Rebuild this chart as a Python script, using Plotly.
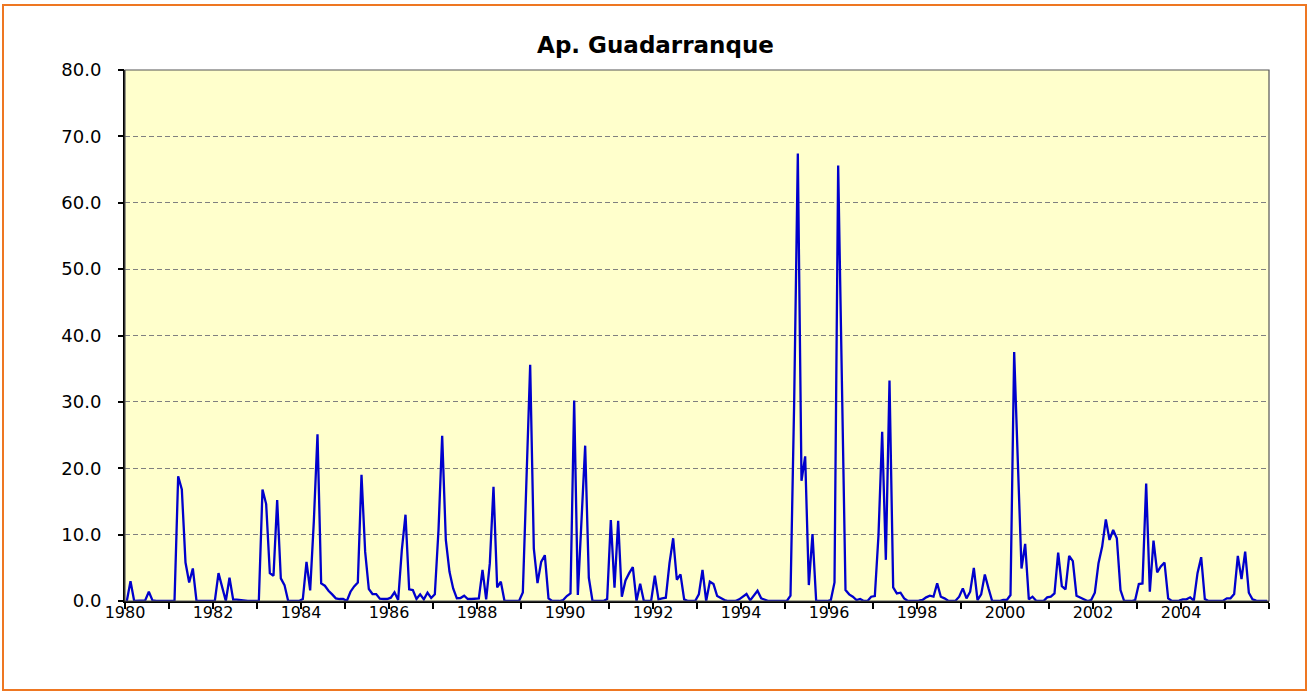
import plotly.graph_objects as go

# Monthly values, Jan 1980 .. Dec 2005 (12 per row)
caudal_mensual = [
    0.0, 3.0, 0.0, 0.0, 0.0, 0.1, 1.4, 0.1, 0.0, 0.0, 0.0, 0.0,        # 1980
    0.0, 0.0, 18.8, 16.8, 5.8, 2.8, 4.9, 0.0, 0.0, 0.0, 0.0, 0.0,     # 1981
    0.0, 4.2, 2.0, 0.0, 3.5, 0.2, 0.2, 0.1, 0.05, 0.0, 0.0, 0.0,      # 1982
    0.0, 16.8, 14.6, 4.2, 3.8, 15.2, 3.4, 2.4, 0.0, 0.0, 0.0, 0.0,    # 1983
    0.3, 5.9, 1.6, 12.0, 25.1, 2.65, 2.3, 1.55, 1.0, 0.4, 0.3, 0.3,   # 1984
    0.0, 1.4, 2.2, 2.8, 19.0, 7.4, 1.8, 1.05, 1.05, 0.35, 0.3, 0.3,   # 1985
    0.5, 1.3, 0.15, 7.7, 13.0, 1.75, 1.65, 0.3, 1.0, 0.25, 1.25, 0.45,  # 1986
    1.0, 10.7, 24.9, 9.2, 4.4, 1.9, 0.4, 0.45, 0.8, 0.3, 0.3, 0.3,    # 1987
    0.4, 4.7, 0.25, 5.7, 17.2, 2.05, 2.9, 0.0, 0.0, 0.0, 0.0, 0.05,   # 1988
    1.3, 20.0, 35.6, 7.9, 2.7, 5.9, 6.9, 0.4, 0.0, 0.0, 0.0, 0.15,    # 1989
    0.75, 1.15, 30.2, 0.9, 12.0, 23.4, 3.5, 0.0, 0.0, 0.0, 0.0, 0.3,  # 1990
    12.2, 2.0, 12.1, 0.65, 3.1, 4.2, 5.1, 0.0, 2.6, 0.0, 0.0, 0.05,   # 1991
    3.8, 0.25, 0.4, 0.5, 5.7, 9.45, 3.2, 4.0, 0.25, 0.0, 0.0, 0.0,    # 1992
    1.0, 4.7, 0.0, 2.9, 2.55, 0.75, 0.45, 0.15, 0.0, 0.0, 0.0, 0.25,  # 1993
    0.65, 1.05, 0.1, 0.75, 1.55, 0.4, 0.15, 0.0, 0.0, 0.0, 0.0, 0.0,  # 1994
    0.0, 0.8, 30.0, 67.4, 18.1, 21.8, 2.4, 10.1, 0.0, 0.0, 0.0, 0.0,  # 1995
    0.15, 2.8, 65.6, 33.0, 1.65, 1.0, 0.65, 0.15, 0.3, 0.0, 0.0, 0.65,  # 1996
    0.75, 9.95, 25.5, 6.2, 33.2, 2.05, 1.15, 1.25, 0.4, 0.0, 0.0, 0.0,  # 1997
    0.05, 0.15, 0.55, 0.8, 0.65, 2.65, 0.65, 0.4, 0.05, 0.0, 0.05, 0.65,  # 1998
    1.9, 0.4, 1.4, 5.0, 0.15, 1.0, 4.0, 1.9, 0.0, 0.0, 0.0, 0.15,     # 1999
    0.15, 0.9, 37.5, 21.0, 4.9, 8.6, 0.25, 0.65, 0.05, 0.0, 0.0, 0.55,  # 2000
    0.65, 1.15, 7.3, 2.25, 1.75, 6.8, 6.0, 0.8, 0.55, 0.25, 0.0, 0.15,  # 2001
    1.25, 5.7, 8.2, 12.3, 9.2, 10.7, 9.45, 1.65, 0.0, 0.0, 0.0, 0.15,  # 2002
    2.55, 2.65, 17.7, 1.4, 9.1, 4.3, 5.2, 5.8, 0.4, 0.0, 0.0, 0.05,   # 2003
    0.25, 0.25, 0.55, 0.05, 4.2, 6.6, 0.3, 0.0, 0.0, 0.0, 0.0, 0.05,  # 2004
    0.4, 0.4, 1.05, 6.8, 3.3, 7.45, 1.25, 0.25, 0.05, 0.0, 0.0, 0.0,  # 2005
]

anio_inicio = 1980
anio_fin = 2006
anios_ticks = list(range(anio_inicio, anio_fin + 1))
anios_etiqueta = list(range(1980, 2005, 2))
valores_y = [0, 10, 20, 30, 40, 50, 60, 70, 80]
etiquetas_y = [f"{v:.1f}" for v in valores_y]

titulo = "Ap. Guadarranque"

meses = list(range(len(caudal_mensual)))
tick_pos = [12 * (a - anio_inicio) - 0.5 for a in anios_ticks]
label_pos = [12 * (a - anio_inicio) - 0.5 for a in anios_etiqueta]
label_txt = [str(a) for a in anios_etiqueta]

FONT = "Verdana, DejaVu Sans, sans-serif"

W, H = 1311, 696
ml, mr, mt, mb = 125, 42, 70, 95
pw, ph = W - ml - mr, H - mt - mb

def px_to_paper_x(px):
    return (px - ml) / pw

def px_to_paper_y(py):
    return (H - mb - py) / ph

fig = go.Figure()
fig.add_trace(go.Scatter(
    x=meses, y=caudal_mensual, mode="lines",
    line=dict(color="#0000CC", width=2.3),
    hoverinfo="skip", showlegend=False,
))
# invisible helper trace so the auxiliary axes are drawn
fig.add_trace(go.Scatter(
    x=[meses[0]], y=[caudal_mensual[0]], xaxis="x2", yaxis="y2", mode="markers",
    marker=dict(opacity=0), hoverinfo="skip", showlegend=False,
))

xr = [-0.5, len(caudal_mensual) - 0.5]
yr = [0, 80]

fig.update_layout(
    width=W, height=H,
    margin=dict(l=ml, r=mr, t=mt, b=mb, autoexpand=False),
    paper_bgcolor="white",
    plot_bgcolor="#FFFFCC",
    title=dict(text=f"<b>{titulo}</b>", x=0.5, xref="container", xanchor="center",
               y=1 - 45 / H, yref="container", yanchor="middle",
               font=dict(family=FONT, size=23, color="black")),
    font=dict(family=FONT, color="black"),
    xaxis=dict(
        range=xr,
        tickmode="array", tickvals=tick_pos, ticktext=[""] * len(tick_pos),
        ticks="outside", ticklen=6, tickwidth=1.5, tickcolor="black",
        showgrid=False, zeroline=False,
        showline=True, linecolor="black", linewidth=2,
        fixedrange=True,
    ),
    xaxis2=dict(
        range=xr, overlaying="x", anchor="free", position=0, side="bottom",
        tickmode="array", tickvals=label_pos, ticktext=label_txt,
        ticks="", tickfont=dict(size=16, family=FONT),
        showgrid=False, zeroline=False, showline=False,
        fixedrange=True,
    ),
    yaxis=dict(
        range=yr,
        tickmode="array", tickvals=valores_y, ticktext=etiquetas_y,
        ticks="outside", ticklen=18, tickwidth=1, tickcolor="rgba(0,0,0,0)",
        tickfont=dict(size=18, family=FONT),
        showgrid=True, gridcolor="#808080", gridwidth=1, griddash="5px,3px",
        zeroline=False,
        showline=True, linecolor="black", linewidth=2,
        fixedrange=True,
    ),
    yaxis2=dict(
        range=yr, overlaying="y", anchor="x", side="left",
        tickmode="array", tickvals=valores_y,
        ticks="outside", ticklen=6, tickwidth=1.5, tickcolor="black",
        showticklabels=False, showgrid=False, zeroline=False, showline=False,
        fixedrange=True,
    ),
    shapes=[
        dict(type="rect", xref="paper", yref="paper", x0=0, x1=1, y0=0, y1=1,
             line=dict(color="#555555", width=1.2), fillcolor="rgba(0,0,0,0)", layer="above"),
        dict(type="rect", xref="paper", yref="paper",
             x0=px_to_paper_x(3), x1=px_to_paper_x(1306),
             y0=px_to_paper_y(690), y1=px_to_paper_y(5),
             line=dict(color="#EE7722", width=2), fillcolor="rgba(0,0,0,0)", layer="above"),
    ],
)

fig.write_html(
    "out.html",
    config={"displayModeBar": False},
    post_script="document.body.style.margin='0px';document.body.style.overflow='hidden';",
)
